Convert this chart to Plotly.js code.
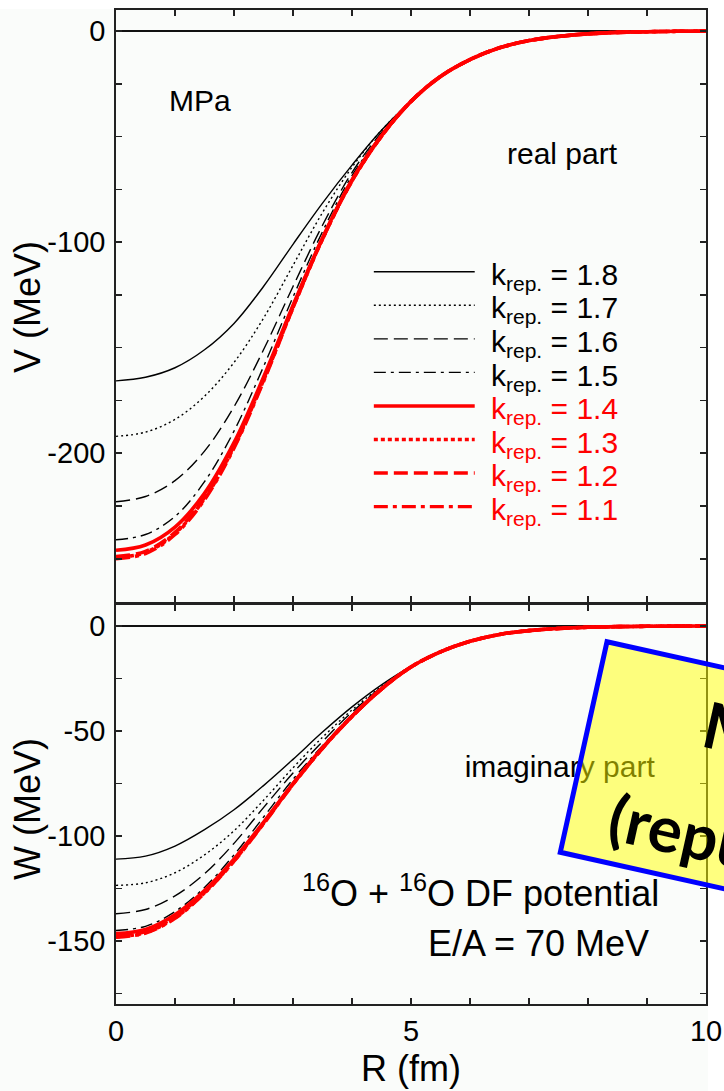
<!DOCTYPE html>
<html><head><meta charset="utf-8">
<script src="https://cdn.plot.ly/plotly-3.0.1.min.js"></script>
<style>html,body{margin:0;padding:0;background:#fff}</style>
</head><body><div id="chart" style="width:724px;height:1091px"></div>
<script>
// Radial distance R (fm)
const R = [0,0.5,1,1.5,2,2.5,3,3.5,4,4.5,5,5.5,6,6.5,7,7.5,8,8.5,9,9.5,10];

// Real part V (MeV)
const V_k18 = [-165.7,-164,-159.5,-151,-138.5,-121,-101,-81.5,-63.5,-47,-33.3,-21.5,-13.5,-7.9,-4.5,-2.5,-1.3,-0.6,-0.3,-0.1,0];
const V_k17 = [-192,-190,-184,-173,-157,-136,-111,-86,-64.5,-47,-33.3,-21.5,-13.5,-7.9,-4.5,-2.5,-1.3,-0.6,-0.3,-0.1,0];
const V_k16 = [-223,-220.5,-213,-199,-178,-151,-121,-92,-67,-48,-33.3,-21.5,-13.5,-7.9,-4.5,-2.5,-1.3,-0.6,-0.3,-0.1,0];
const V_k15 = [-241,-238.5,-230,-213.5,-189.5,-159,-126,-95,-68.5,-49,-33.3,-21.5,-13.5,-7.9,-4.5,-2.5,-1.3,-0.6,-0.3,-0.1,0];
const V_k14 = [-246,-243.5,-235,-219,-195,-164,-130,-98,-70.5,-49.5,-33.3,-21.5,-13.5,-7.9,-4.5,-2.5,-1.3,-0.6,-0.3,-0.1,0];
const V_k13 = [-249.5,-247,-238,-221.5,-197,-165.5,-131,-98.5,-71,-49.8,-33.3,-21.5,-13.5,-7.9,-4.5,-2.5,-1.3,-0.6,-0.3,-0.1,0];
const V_k12 = [-249,-246.5,-237.5,-221,-196.5,-165,-130.5,-98.3,-70.8,-49.7,-33.3,-21.5,-13.5,-7.9,-4.5,-2.5,-1.3,-0.6,-0.3,-0.1,0];
const V_k11 = [-250,-247.5,-238.5,-222,-197.5,-166,-131,-98.5,-71,-49.8,-33.3,-21.5,-13.5,-7.9,-4.5,-2.5,-1.3,-0.6,-0.3,-0.1,0];

// Imaginary part W (MeV)
const W_k18 = [-111,-109.6,-104.8,-97,-87.5,-76,-63.5,-50.5,-38.5,-28,-19.2,-12.3,-7.3,-4,-2.2,-1.2,-0.6,-0.3,-0.15,-0.05,0];
const W_k17 = [-123.5,-122.3,-117.5,-109,-97.5,-83,-67.5,-53,-40,-28.8,-19.3,-12.3,-7.3,-4,-2.2,-1.2,-0.6,-0.3,-0.15,-0.05,0];
const W_k16 = [-137,-135,-128.5,-118,-103.5,-86.5,-70,-55,-41,-29.2,-19.4,-12.3,-7.3,-4,-2.2,-1.2,-0.6,-0.3,-0.15,-0.05,0];
const W_k15 = [-145,-143,-136,-124.5,-109,-91,-73,-57,-42.3,-29.6,-19.5,-12.3,-7.3,-4,-2.2,-1.2,-0.6,-0.3,-0.15,-0.05,0];
const W_k14 = [-146.5,-144.5,-137.5,-126,-111,-93.5,-75,-58,-43,-30,-19.5,-12.3,-7.3,-4,-2.2,-1.2,-0.6,-0.3,-0.15,-0.05,0];
const W_k13 = [-148,-146,-139,-127,-111.8,-94,-75.3,-58.2,-43.1,-30,-19.5,-12.3,-7.3,-4,-2.2,-1.2,-0.6,-0.3,-0.15,-0.05,0];
const W_k12 = [-147.5,-145.5,-138.5,-126.7,-111.5,-93.8,-75.2,-58.1,-43,-30,-19.5,-12.3,-7.3,-4,-2.2,-1.2,-0.6,-0.3,-0.15,-0.05,0];
const W_k11 = [-148.2,-146.2,-139.2,-127.2,-112,-94.2,-75.4,-58.2,-43.1,-30,-19.5,-12.3,-7.3,-4,-2.2,-1.2,-0.6,-0.3,-0.15,-0.05,0];

const kLabels = ['1.8','1.7','1.6','1.5','1.4','1.3','1.2','1.1'];
const realSeries = [V_k18,V_k17,V_k16,V_k15,V_k14,V_k13,V_k12,V_k11];
const imagSeries = [W_k18,W_k17,W_k16,W_k15,W_k14,W_k13,W_k12,W_k11];

// major tick labels (hyphen minus, as in the original)
const vTickVals = [0,-100,-200];
const vTickText = ['0','-100','-200'];
const wTickVals = [0,-50,-100,-150];
const wTickText = ['0','-50','-100','-150'];

const FONT = 'Liberation Sans, Arial, sans-serif';
const colors = ['#000','#000','#000','#000','#ff0000','#ff0000','#ff0000','#ff0000'];
const dashes = ['solid','2px,3px','14px,6px','12px,5px,3px,5px','solid','4px,3px','14px,6px','14px,5px,4px,5px'];
const widths = [1.4,1.4,1.4,1.4,3.6,3.6,3.6,3.6];

const traces = [];
realSeries.forEach((v,i)=>{
  traces.push({x:R,y:v,xaxis:'x',yaxis:'y',type:'scatter',mode:'lines',name:'k_rep. = '+kLabels[i],
    line:{color:colors[i],width:widths[i],dash:dashes[i],shape:'spline',smoothing:1},hoverinfo:'skip'});
});
imagSeries.forEach((w,i)=>{
  traces.push({x:R,y:w,xaxis:'x2',yaxis:'y2',type:'scatter',mode:'lines',name:'k_rep. = '+kLabels[i],showlegend:false,
    line:{color:colors[i],width:widths[i],dash:dashes[i],shape:'spline',smoothing:1},hoverinfo:'skip'});
});
// text lying under the overlay
traces.push({x:[7.52],y:[-68.2],xaxis:'x2',yaxis:'y2',type:'scatter',mode:'text',text:['imaginary part'],
  textposition:'middle center',textfont:{family:FONT,size:30,color:'#000'},showlegend:false,hoverinfo:'skip'});

const axCommon = {showline:true,linecolor:'#222',linewidth:1.8,mirror:'ticks',ticks:'inside',ticklen:6,tickwidth:1.5,
  tickcolor:'#222',showgrid:false,zeroline:false,tickfont:{family:FONT,size:29,color:'#000'}};

const px = p => (p-116)/590;
const py = p => (1004-p)/994;

const shapes = [];
const annotations = [];
// legend rows
const legY0 = -114, legStep = -15.9;
kLabels.forEach((k,i)=>{
  const yy = legY0 + i*legStep;
  shapes.push({type:'line',xref:'x',yref:'y',x0:4.37,x1:6.08,y0:yy,y1:yy,line:{color:colors[i],width:i<4?1.4:3.4,dash:dashes[i]}});
  annotations.push({xref:'x',yref:'y',x:6.33,y:yy-2.2,xanchor:'left',yanchor:'middle',showarrow:false,
    text:'k<sub>rep.</sub> = '+k,font:{family:FONT,size:30,color:colors[i]}});
});
// y-axis titles
annotations.push({xref:'paper',yref:'paper',x:px(27),y:py(307),xanchor:'center',yanchor:'middle',textangle:-90,showarrow:false,
  text:'V (MeV)',font:{family:FONT,size:36}});
annotations.push({xref:'paper',yref:'paper',x:px(27),y:py(809),xanchor:'center',yanchor:'middle',textangle:-90,showarrow:false,
  text:'W (MeV)',font:{family:FONT,size:36}});
annotations.push({xref:'x',yref:'y',x:1.42,y:-33,text:'MPa',showarrow:false,font:{family:FONT,size:30}});
annotations.push({xref:'x',yref:'y',x:7.57,y:-58,text:'real part',showarrow:false,font:{family:FONT,size:30}});
annotations.push({xref:'x2',yref:'y2',x:9.23,y:-126,xanchor:'right',text:'<sup>16</sup>O + <sup>16</sup>O DF potential',showarrow:false,font:{family:FONT,size:36}});
annotations.push({xref:'x2',yref:'y2',x:9.06,y:-151.2,xanchor:'right',text:'E/A = 70 MeV',showarrow:false,font:{family:FONT,size:36}});

// slide callout overlay
shapes.push({type:'rect',xref:'paper',yref:'paper',x0:px(0),x1:px(724),y0:py(0),y1:py(9),fillcolor:'#fff',line:{width:0},layer:'below'});
shapes.push({type:'rect',xref:'paper',yref:'paper',x0:px(708),x1:px(724),y0:py(0),y1:py(1091),fillcolor:'#fff',line:{width:0},layer:'below'});
const box = [[607,641.7],[1017,733],[970,943.6],[560.3,852.3]];
shapes.push({type:'path',xref:'paper',yref:'paper',layer:'above',
  path:'M'+box.map(p=>px(p[0])+','+py(p[1])).join('L')+'Z',
  fillcolor:'rgba(255,255,0,0.5)',line:{color:'#0000ff',width:5}});
annotations.push({xref:'paper',yref:'paper',x:px(769),y:py(736),xanchor:'center',yanchor:'middle',showarrow:false,
  text:'<b>MPa</b>',textangle:12.6,font:{family:'Lato, Open Sans, sans-serif',size:64,color:'#000'}});
annotations.push({xref:'paper',yref:'paper',x:px(752),y:py(846),xanchor:'center',yanchor:'middle',showarrow:false,
  text:'<b>(repulsive)</b>',textangle:12.6,font:{family:'Lato, Open Sans, sans-serif',size:64,color:'#000'}});

const minorX = {dtick:1,tick0:0,ticklen:6,tickwidth:1.5,tickcolor:'#222',ticks:'inside',showgrid:false};
const minorY = {tickmode:'linear',dtick:25,tick0:0,ticklen:6,tickwidth:1.5,tickcolor:'#222',ticks:'inside',showgrid:false};

const layout = {
  width:724,height:1091,margin:{l:116,r:18,t:10,b:87},
  paper_bgcolor:'#fafcfa',plot_bgcolor:'#fafcfa',showlegend:false,
  font:{family:FONT,size:29,color:'#000'},
  xaxis:Object.assign({},axCommon,{domain:[0,1],range:[0,10],anchor:'y',tickmode:'linear',tick0:0,dtick:5,minor:minorX,showticklabels:false}),
  yaxis:Object.assign({},axCommon,{domain:[0.4044,1],range:[-270.5,10],anchor:'x',tickmode:'array',tickvals:vTickVals,ticktext:vTickText,minor:minorY,
    zeroline:true,zerolinecolor:'#111',zerolinewidth:1.5,ticklabelstandoff:3}),
  xaxis2:Object.assign({},axCommon,{domain:[0,1],range:[0,10],anchor:'y2',tickmode:'linear',tick0:0,dtick:5,minor:minorX,
    title:{text:'R (fm)',font:{family:FONT,size:36},standoff:10}}),
  yaxis2:Object.assign({},axCommon,{domain:[0,0.4014],range:[-180,10],anchor:'x2',tickmode:'array',tickvals:wTickVals,ticktext:wTickText,minor:minorY,
    zeroline:true,zerolinecolor:'#111',zerolinewidth:1.5,ticklabelstandoff:3}),
  shapes:shapes,annotations:annotations
};
Plotly.newPlot('chart',traces,layout,{displayModeBar:false,staticPlot:true});
</script></body></html>
